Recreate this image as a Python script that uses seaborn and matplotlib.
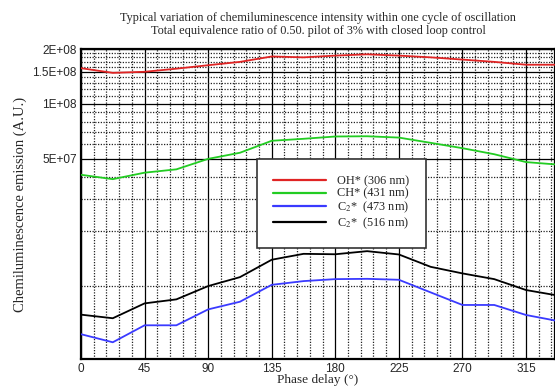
import numpy as np
import pandas as pd
import matplotlib
matplotlib.use("Agg")
import matplotlib.pyplot as plt
import matplotlib.ticker as mticker
from matplotlib.lines import Line2D
import seaborn as sns

phase = [0, 22.5, 45, 67.5, 90, 112.5, 135, 157.5, 180, 202.5, 225, 247.5, 270, 292.5, 315, 337.5]
oh_306 = [1.57e8, 1.48e8, 1.50e8, 1.56e8, 1.63e8, 1.70e8, 1.82e8, 1.80e8, 1.84e8, 1.87e8, 1.84e8, 1.80e8, 1.75e8, 1.70e8, 1.64e8, 1.64e8]
ch_431 = [4.09e7, 3.87e7, 4.20e7, 4.38e7, 5.00e7, 5.40e7, 6.28e7, 6.44e7, 6.63e7, 6.65e7, 6.54e7, 6.12e7, 5.72e7, 5.30e7, 4.80e7, 4.65e7]
c2_473 = [5.47e6, 4.94e6, 6.12e6, 6.12e6, 7.48e6, 8.24e6, 1.02e7, 1.069e7, 1.096e7, 1.10e7, 1.087e7, 9.27e6, 7.91e6, 7.91e6, 6.97e6, 6.46e6]
c2_516 = [7.0e6, 6.69e6, 8.07e6, 8.49e6, 1.004e7, 1.124e7, 1.40e7, 1.508e7, 1.50e7, 1.56e7, 1.496e7, 1.28e7, 1.178e7, 1.096e7, 9.55e6, 8.91e6]

labels = ["OH* (306 nm)", "CH* (431 nm)", r"C$_2$*  (473 nm)", r"C$_2$*  (516 nm)"]
colors = ["#e02424", "#22cc22", "#3a3aff", "#000000"]

y_major = [5e7, 1e8, 1.5e8, 2e8]
y_major_labels = ["5E+07", "1E+08", "1.5E+08", "2E+08"]
x_major = [0, 45, 90, 135, 180, 225, 270, 315]

df = pd.concat([
    pd.DataFrame({"phase": phase, "value": v, "series": lab})
    for v, lab in zip([oh_306, ch_431, c2_473, c2_516], labels)
], ignore_index=True)

sns.set_style("white")
plt.rcParams["font.family"] = ["Liberation Serif", "DejaVu Serif"]
plt.rcParams["mathtext.fontset"] = "stix"

fig = plt.figure(figsize=(5.55, 3.87), dpi=100)
ax = fig.add_axes([81 / 555, 1 - 359 / 387, 1 - 81 / 555, (359 - 49) / 387])

sns.lineplot(data=df, x="phase", y="value", hue="series", hue_order=labels,
             palette=colors, linewidth=1.3, ax=ax, legend=False, zorder=5)

ax.set_yscale("log")
ax.set_xlim(0, 335.5)
ax.set_ylim(4e6, 2e8)

ax.yaxis.set_major_locator(mticker.FixedLocator(y_major))
ax.yaxis.set_major_formatter(mticker.FixedFormatter(y_major_labels))
minor_y = [k * 1e7 for k in range(1, 20) if k * 1e7 not in y_major and k != 10]
ax.yaxis.set_minor_locator(mticker.FixedLocator(minor_y))
ax.yaxis.set_minor_formatter(mticker.NullFormatter())

ax.xaxis.set_major_locator(mticker.FixedLocator(x_major))
ax.xaxis.set_minor_locator(mticker.MultipleLocator(9))

ax.grid(which="major", color="black", linewidth=0.9, linestyle="-", zorder=1)
ax.grid(which="minor", color="#222222", linewidth=0.9, linestyle=(0, (1, 1.2)), zorder=1)
ax.set_axisbelow(True)

ax.tick_params(which="major", direction="in", length=6, width=1.2, labelsize=8.5,
               color="black", pad=3)
ax.tick_params(which="minor", direction="in", length=3, width=0.8, color="black")
for lab in ax.get_xticklabels() + ax.get_yticklabels():
    lab.set_fontfamily(["Liberation Sans", "DejaVu Sans"])

for s in ax.spines.values():
    s.set_color("black")
    s.set_linewidth(1.6)

ax.set_xlabel("Phase delay (°)", fontsize=9.6, labelpad=-0.5)
ax.set_ylabel("Chemiluminescence emission (A.U.)", fontsize=10.5, labelpad=4)
ax.set_title("Typical variation of chemiluminescence intensity within one cycle of oscillation\n"
             "Total equivalence ratio of 0.50. pilot of 3% with closed loop control",
             fontsize=8.8, linespacing=1.05, pad=11)

handles = [Line2D([], [], color=c, linewidth=1.6) for c in colors]
leg = ax.legend(handles, labels, loc="upper left", bbox_to_anchor=(0.371, 0.645),
                fontsize=8.8, frameon=True, fancybox=False, framealpha=1,
                edgecolor="#333333", handlelength=4.3, handletextpad=0.9,
                labelspacing=0.02, borderpad=1.35, borderaxespad=0)
leg.get_frame().set_linewidth(1.2)
leg.set_zorder(10)

fig.savefig("out.png", dpi=100)
